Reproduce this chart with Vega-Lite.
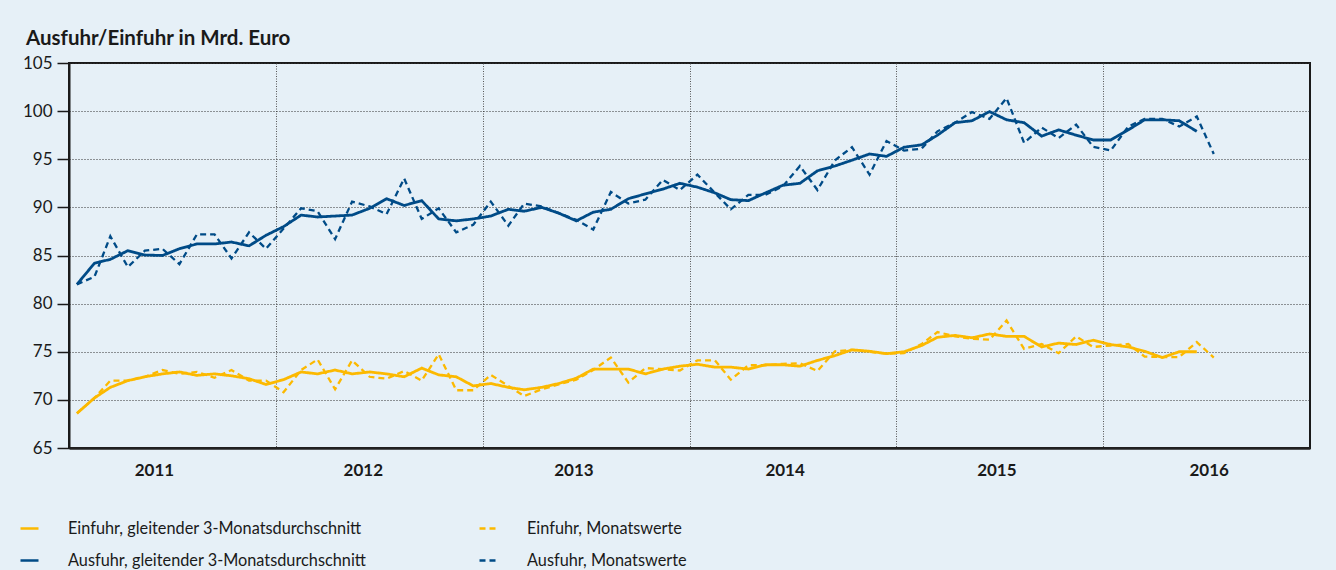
{
  "$schema": "https://vega.github.io/schema/vega-lite/v6.json",
  "autosize": "none",
  "width": 1241,
  "height": 385,
  "padding": {"left": 69, "top": 63, "right": 26, "bottom": 122},
  "background": "#e6f0f7",
  "title": {
    "text": "Ausfuhr/Einfuhr in Mrd. Euro",
    "anchor": "start",
    "frame": "group",
    "dx": -43,
    "dy": 30,
    "baseline": "alphabetic",
    "offset": 19,
    "font": "Lato",
    "fontSize": 20.5,
    "fontWeight": "bold",
    "color": "#1a1a1a"
  },
  "data": {
    "values": [
      {"d": "2011-01-15", "ea": 68.6, "em": 68.6, "aa": 82.0, "am": 82.0},
      {"d": "2011-02-15", "ea": 70.2, "em": 70.2, "aa": 84.2, "am": 82.8},
      {"d": "2011-03-15", "ea": 71.3, "em": 72.0, "aa": 84.6, "am": 87.0},
      {"d": "2011-04-15", "ea": 72.0, "em": 72.0, "aa": 85.5, "am": 83.8},
      {"d": "2011-05-15", "ea": 72.4, "em": 72.4, "aa": 85.05, "am": 85.5},
      {"d": "2011-06-15", "ea": 72.7, "em": 73.1, "aa": 85.0, "am": 85.7},
      {"d": "2011-07-15", "ea": 72.9, "em": 72.7, "aa": 85.7, "am": 84.1},
      {"d": "2011-08-15", "ea": 72.55, "em": 72.9, "aa": 86.2, "am": 87.2},
      {"d": "2011-09-15", "ea": 72.7, "em": 72.3, "aa": 86.2, "am": 87.2},
      {"d": "2011-10-15", "ea": 72.5, "em": 73.1, "aa": 86.4, "am": 84.7},
      {"d": "2011-11-15", "ea": 72.2, "em": 72.0, "aa": 86.0, "am": 87.4},
      {"d": "2011-12-15", "ea": 71.6, "em": 72.0, "aa": 87.1, "am": 85.7},
      {"d": "2012-01-15", "ea": 72.1, "em": 70.8, "aa": 88.0, "am": 87.8},
      {"d": "2012-02-15", "ea": 72.9, "em": 73.1, "aa": 89.2, "am": 89.9},
      {"d": "2012-03-15", "ea": 72.7, "em": 74.2, "aa": 89.0, "am": 89.6},
      {"d": "2012-04-15", "ea": 73.1, "em": 71.1, "aa": 89.1, "am": 86.7},
      {"d": "2012-05-15", "ea": 72.7, "em": 74.1, "aa": 89.2, "am": 90.6},
      {"d": "2012-06-15", "ea": 72.9, "em": 72.4, "aa": 89.9, "am": 90.1},
      {"d": "2012-07-15", "ea": 72.7, "em": 72.2, "aa": 90.9, "am": 89.3},
      {"d": "2012-08-15", "ea": 72.4, "em": 73.0, "aa": 90.2, "am": 93.0},
      {"d": "2012-09-15", "ea": 73.3, "em": 72.0, "aa": 90.7, "am": 88.8},
      {"d": "2012-10-15", "ea": 72.6, "em": 74.75, "aa": 88.8, "am": 89.9},
      {"d": "2012-11-15", "ea": 72.4, "em": 71.0, "aa": 88.6, "am": 87.4},
      {"d": "2012-12-15", "ea": 71.45, "em": 71.0, "aa": 88.8, "am": 88.2},
      {"d": "2013-01-15", "ea": 71.7, "em": 72.6, "aa": 89.1, "am": 90.6},
      {"d": "2013-02-15", "ea": 71.3, "em": 71.45, "aa": 89.8, "am": 88.1},
      {"d": "2013-03-15", "ea": 71.05, "em": 70.4, "aa": 89.6, "am": 90.4},
      {"d": "2013-04-15", "ea": 71.3, "em": 71.1, "aa": 90.0, "am": 90.1},
      {"d": "2013-05-15", "ea": 71.7, "em": 71.6, "aa": 89.4, "am": 89.4},
      {"d": "2013-06-15", "ea": 72.25, "em": 72.1, "aa": 88.6, "am": 88.7},
      {"d": "2013-07-15", "ea": 73.2, "em": 73.1, "aa": 89.5, "am": 87.7},
      {"d": "2013-08-15", "ea": 73.2, "em": 74.4, "aa": 89.8, "am": 91.6},
      {"d": "2013-09-15", "ea": 73.2, "em": 71.8, "aa": 90.9, "am": 90.4},
      {"d": "2013-10-15", "ea": 72.7, "em": 73.3, "aa": 91.4, "am": 90.8},
      {"d": "2013-11-15", "ea": 73.2, "em": 73.2, "aa": 91.9, "am": 92.85},
      {"d": "2013-12-15", "ea": 73.5, "em": 73.05, "aa": 92.5, "am": 91.8},
      {"d": "2014-01-15", "ea": 73.7, "em": 74.1, "aa": 92.1, "am": 93.4},
      {"d": "2014-02-15", "ea": 73.4, "em": 74.1, "aa": 91.5, "am": 91.5},
      {"d": "2014-03-15", "ea": 73.4, "em": 72.1, "aa": 90.8, "am": 89.8},
      {"d": "2014-04-15", "ea": 73.2, "em": 73.6, "aa": 90.7, "am": 91.3},
      {"d": "2014-05-15", "ea": 73.65, "em": 73.6, "aa": 91.5, "am": 91.3},
      {"d": "2014-06-15", "ea": 73.65, "em": 73.75, "aa": 92.3, "am": 92.2},
      {"d": "2014-07-15", "ea": 73.5, "em": 73.8, "aa": 92.5, "am": 94.3},
      {"d": "2014-08-15", "ea": 74.1, "em": 73.0, "aa": 93.8, "am": 91.8},
      {"d": "2014-09-15", "ea": 74.6, "em": 75.05, "aa": 94.3, "am": 94.9},
      {"d": "2014-10-15", "ea": 75.2, "em": 75.2, "aa": 94.9, "am": 96.25},
      {"d": "2014-11-15", "ea": 75.05, "em": 75.0, "aa": 95.55, "am": 93.4},
      {"d": "2014-12-15", "ea": 74.8, "em": 74.8, "aa": 95.3, "am": 96.9},
      {"d": "2015-01-15", "ea": 75.0, "em": 74.85, "aa": 96.25, "am": 95.9},
      {"d": "2015-02-15", "ea": 75.65, "em": 75.8, "aa": 96.5, "am": 96.1},
      {"d": "2015-03-15", "ea": 76.5, "em": 77.05, "aa": 97.5, "am": 97.9},
      {"d": "2015-04-15", "ea": 76.7, "em": 76.6, "aa": 98.8, "am": 98.8},
      {"d": "2015-05-15", "ea": 76.45, "em": 76.35, "aa": 99.0, "am": 99.9},
      {"d": "2015-06-15", "ea": 76.85, "em": 76.25, "aa": 99.95, "am": 99.2},
      {"d": "2015-07-15", "ea": 76.6, "em": 78.25, "aa": 99.1, "am": 101.35},
      {"d": "2015-08-15", "ea": 76.6, "em": 75.3, "aa": 98.8, "am": 96.7},
      {"d": "2015-09-15", "ea": 75.5, "em": 75.8, "aa": 97.4, "am": 98.3},
      {"d": "2015-10-15", "ea": 75.9, "em": 74.85, "aa": 98.05, "am": 97.2},
      {"d": "2015-11-15", "ea": 75.75, "em": 76.6, "aa": 97.5, "am": 98.6},
      {"d": "2015-12-15", "ea": 76.2, "em": 75.5, "aa": 97.0, "am": 96.3},
      {"d": "2016-01-15", "ea": 75.75, "em": 75.65, "aa": 97.0, "am": 95.9},
      {"d": "2016-02-15", "ea": 75.5, "em": 75.8, "aa": 98.05, "am": 98.4},
      {"d": "2016-03-15", "ea": 75.05, "em": 74.5, "aa": 99.1, "am": 99.2},
      {"d": "2016-04-15", "ea": 74.4, "em": 74.45, "aa": 99.1, "am": 99.2},
      {"d": "2016-05-15", "ea": 75.0, "em": 74.45, "aa": 99.0, "am": 98.4},
      {"d": "2016-06-15", "ea": 75.0, "em": 76.0, "aa": 97.9, "am": 99.45},
      {"d": "2016-07-15", "ea": null, "em": 74.4, "aa": null, "am": 95.55}
    ]
  },
  "transform": [
    {"fold": ["ea", "em", "aa", "am"], "as": ["s", "v"]},
    {"filter": "isValid(datum.v)"}
  ],
  "encoding": {
    "y": {
      "field": "v",
      "type": "quantitative",
      "scale": {"domain": [65, 105], "nice": false, "zero": false},
      "axis": {
        "title": null,
        "values": [65, 70, 75, 80, 85, 90, 95, 100, 105],
        "grid": true,
        "gridColor": "#333333",
        "gridDash": [1, 2],
        "gridWidth": 1,
        "domain": true,
        "domainColor": "#1a1a1a",
        "domainWidth": 2,
        "ticks": true,
        "tickSize": 12,
        "tickColor": "#1a1a1a",
        "tickWidth": 1.5,
        "labelPadding": 5,
        "labelFont": "Lato",
        "labelFontSize": 17,
        "labelColor": "#1a1a1a"
      }
    },
    "color": {
      "field": "s",
      "type": "nominal",
      "scale": {"domain": ["ea", "em", "aa", "am"], "range": ["#fcb900", "#fcb900", "#004b87", "#004b87"]},
      "legend": {
        "orient": "none",
        "legendX": -50,
        "legendY": 455,
        "columns": 2,
        "direction": "horizontal",
        "title": null,
        "symbolType": "stroke",
        "symbolSize": 324,
        "symbolStrokeWidth": 2.5,
        "labelOffset": 28,
        "columnPadding": 107,
        "rowPadding": 13,
        "padding": 0,
        "labelFont": "Lato",
        "labelFontSize": 16.3,
        "labelColor": "#1a1a1a",
        "labelLimit": 400,
        "labelExpr": "datum.label == 'ea' ? 'Einfuhr, gleitender 3-Monatsdurchschnitt' : datum.label == 'em' ? 'Einfuhr, Monatswerte' : datum.label == 'aa' ? 'Ausfuhr, gleitender 3-Monatsdurchschnitt' : 'Ausfuhr, Monatswerte'"
      }
    },
    "strokeDash": {
      "field": "s",
      "type": "nominal",
      "scale": {"domain": ["ea", "em", "aa", "am"], "range": [[1, 0], [6, 4], [1, 0], [6, 4]]},
      "legend": null
    }
  },
  "layer": [
    {
      "transform": [{"filter": "datum.s == 'em' || datum.s == 'am'"}],
      "mark": {"type": "line", "strokeWidth": 2.3},
      "encoding": {
        "x": {
          "field": "d",
          "type": "temporal",
          "scale": {"type": "utc", "domain": [{"year": 2011, "month": 1, "date": 1, "utc": true}, {"year": 2017, "month": 1, "date": 1, "utc": true}]},
          "axis": {
            "orient": "bottom",
            "title": null,
            "values": [
              {"year": 2012, "month": 1, "date": 1, "utc": true},
              {"year": 2013, "month": 1, "date": 1, "utc": true},
              {"year": 2014, "month": 1, "date": 1, "utc": true},
              {"year": 2015, "month": 1, "date": 1, "utc": true},
              {"year": 2016, "month": 1, "date": 1, "utc": true}
            ],
            "labels": false,
            "ticks": false,
            "grid": true,
            "gridColor": "#555555",
            "gridDash": [1, 1.5],
            "gridWidth": 1,
            "domain": true,
            "domainColor": "#222222",
            "domainWidth": 2.5
          }
        }
      }
    },
    {
      "transform": [{"filter": "datum.s == 'ea' || datum.s == 'aa'"}],
      "mark": {"type": "line", "strokeWidth": 2.8},
      "encoding": {
        "x": {
          "field": "d",
          "type": "temporal",
          "scale": {"type": "utc", "domain": [{"year": 2011, "month": 1, "date": 1, "utc": true}, {"year": 2017, "month": 1, "date": 1, "utc": true}]},
          "axis": {
            "orient": "bottom",
            "title": null,
            "values": [
              {"year": 2011, "month": 5, "date": 31, "utc": true},
              {"year": 2012, "month": 6, "date": 3, "utc": true},
              {"year": 2013, "month": 6, "date": 10, "utc": true},
              {"year": 2014, "month": 6, "date": 18, "utc": true},
              {"year": 2015, "month": 6, "date": 27, "utc": true},
              {"year": 2016, "month": 7, "date": 6, "utc": true}
            ],
            "format": "%Y",
            "labels": true,
            "ticks": false,
            "grid": false,
            "domain": false,
            "labelPadding": 14,
            "labelFont": "Lato",
            "labelFontSize": 17,
            "labelFontWeight": "bold",
            "labelColor": "#1a1a1a"
          }
        }
      }
    }
  ],
  "resolve": {"axis": {"x": "independent"}},
  "config": {
    "view": {"fill": "#e6f0f7", "stroke": "#1a1a1a", "strokeWidth": 2}
  }
}
